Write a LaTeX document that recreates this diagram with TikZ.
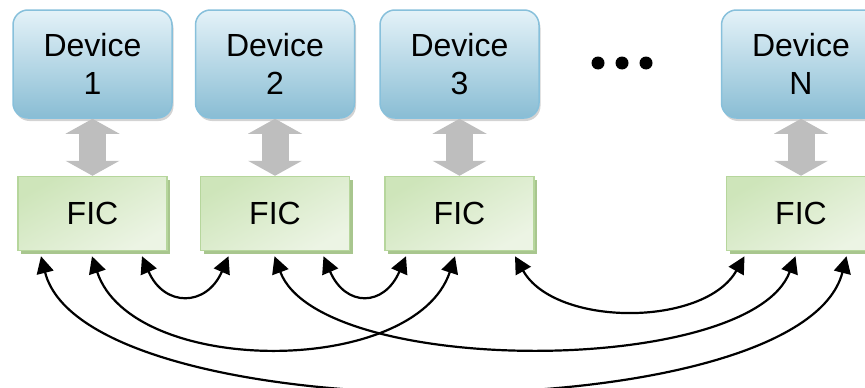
\documentclass[tikz,border=0pt]{standalone}
\usepackage{fontspec}
\setmainfont{Liberation Sans}
\usetikzlibrary{positioning,arrows.meta,shadows}

\definecolor{devtop}{RGB}{228,242,248}
\definecolor{devbot}{RGB}{137,189,212}
\definecolor{devline}{RGB}{135,192,219}
\definecolor{fictop}{RGB}{206,229,186}
\definecolor{ficbot}{RGB}{236,244,228}
\definecolor{ficline}{RGB}{182,214,156}
\definecolor{ficshade}{RGB}{168,198,142}
\definecolor{busgray}{RGB}{190,190,190}

\begin{document}
\begin{tikzpicture}[
                    devnode/.style={rectangle, rounded corners=15pt, draw=devline, line width=1.5pt, top color=devtop, bottom color=devbot, minimum width=159pt, minimum height=108pt, inner sep=0pt, align=center, font=\fontsize{32pt}{38pt}\selectfont, drop shadow={shadow xshift=1.5pt, shadow yshift=-3pt, opacity=0.35}},
                    ficnode/.style={rectangle, draw=ficline, line width=1.5pt, top color=fictop, bottom color=ficbot, shading angle=30, minimum width=149pt, minimum height=74pt, inner sep=0pt, font=\fontsize{32pt}{36pt}\selectfont, drop shadow={shadow xshift=3pt, shadow yshift=-3pt, fill=ficshade, opacity=1}},
                    buslink/.style={draw=busgray, line width=27pt, {Triangle[width=54pt, length=15pt, line width=0pt]}-{Triangle[width=54pt, length=15pt, line width=0pt]}},
                    ficlink/.style={line width=2.2pt, {Triangle[width=17pt, length=17pt]}-{Triangle[width=17pt, length=17pt]}},
                ]
                    \useasboundingbox (0pt,0pt) rectangle (865pt,-388pt);

                    %Nodes
                    \node[devnode](dev1) at (92.5pt,-64pt) {Device\\1};
                    \node[devnode](dev2)[right=22pt of dev1] {Device\\2};
                    \node[devnode](dev3)[right=24pt of dev2] {Device\\3};
                    \node[devnode](devN)[right=181pt of dev3] {Device\\N};

                    \node[ficnode](fic1)[below=57pt of dev1] {FIC};
                    \node[ficnode](fic2)[below=57pt of dev2] {FIC};
                    \node[ficnode](fic3)[below=57pt of dev3] {FIC};
                    \node[ficnode](ficN)[below=57pt of devN] {FIC};

                    \fill (598pt,-63pt) circle (6.5pt);
                    \fill (622pt,-63pt) circle (6.5pt);
                    \fill (646pt,-63pt) circle (6.5pt);

                    %Ports
                    \coordinate (fic1a) at ([xshift=-51.5pt, yshift=-5pt]fic1.south);
                    \coordinate (fic1b) at ([xshift=-0.5pt, yshift=-5pt]fic1.south);
                    \coordinate (fic1c) at ([xshift=49.5pt, yshift=-5pt]fic1.south);
                    \coordinate (fic2a) at ([xshift=-46.5pt, yshift=-5pt]fic2.south);
                    \coordinate (fic2b) at ([xshift=-0.5pt, yshift=-5pt]fic2.south);
                    \coordinate (fic2c) at ([xshift=48.5pt, yshift=-5pt]fic2.south);
                    \coordinate (fic3a) at ([xshift=-53.5pt, yshift=-5pt]fic3.south);
                    \coordinate (fic3b) at ([xshift=-4.5pt, yshift=-5pt]fic3.south);
                    \coordinate (fic3c) at ([xshift=55.5pt, yshift=-5pt]fic3.south);
                    \coordinate (ficNa) at ([xshift=-56.5pt, yshift=-5pt]ficN.south);
                    \coordinate (ficNb) at ([xshift=-5.5pt, yshift=-5pt]ficN.south);
                    \coordinate (ficNc) at ([xshift=45.5pt, yshift=-5pt]ficN.south);

                    %Lines
                    \draw[buslink](dev1) -- (fic1);
                    \draw[buslink](dev2) -- (fic2);
                    \draw[buslink](dev3) -- (fic3);
                    \draw[buslink](devN) -- (ficN);

                    \draw[ficlink](fic1c) .. controls +(22pt,-51pt) and +(-22pt,-51pt) .. (fic2a);
                    \draw[ficlink](fic2c) .. controls +(22pt,-51pt) and +(-22pt,-51pt) .. (fic3a);
                    \draw[ficlink](fic3c) .. controls +(40pt,-71pt) and +(-40pt,-71pt) .. (ficNa);
                    \draw[ficlink](fic1b) .. controls +(40pt,-121pt) and +(-40pt,-121pt) .. (fic3b);
                    \draw[ficlink](fic2b) .. controls +(45pt,-121pt) and +(-45pt,-121pt) .. (ficNb);
                    \draw[ficlink](fic1a) .. controls +(45pt,-177pt) and +(-45pt,-177pt) .. (ficNc);
                \end{tikzpicture}
\end{document}
